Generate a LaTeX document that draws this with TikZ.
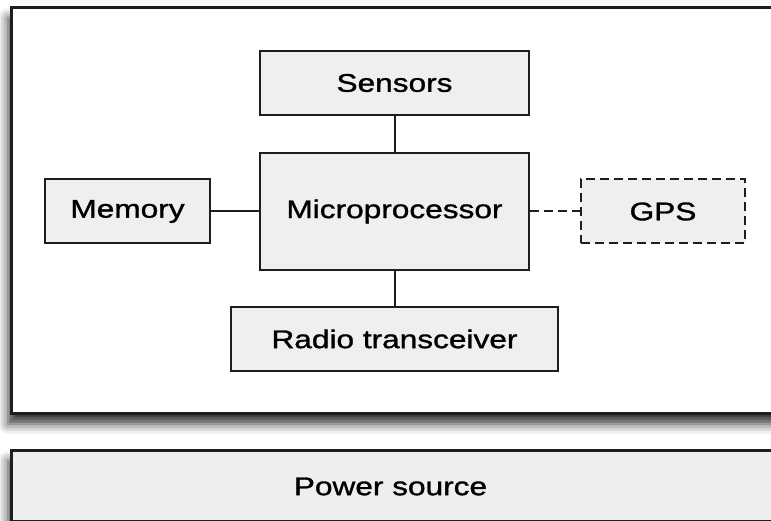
\documentclass[tikz,border=0pt]{standalone}
\usepackage{fontspec}
\setmainfont{Liberation Sans}[FakeStretch=1.24, FakeBold=1.2]
\usepackage{tikz}
\usetikzlibrary{positioning}
\usetikzlibrary{shadows.blur}
\definecolor{boxfill}{RGB}{239,239,239}
\definecolor{powerfill}{RGB}{238,238,238}
\definecolor{edge}{RGB}{30,30,30}
\tikzstyle{blk} = [draw=edge, fill=boxfill, line width=2pt, minimum height=64pt, inner sep=0pt, font=\fontsize{25.5}{30}\selectfont]
\tikzstyle{opt} = [blk, dash pattern=on 9pt off 5pt]
\tikzstyle{wire} = [draw=edge, line width=2pt]
\tikzstyle{frame} = [draw=edge, fill=white, line width=3pt, inner sep=0pt, blur shadow={shadow xshift=-3pt, shadow yshift=-10pt, shadow blur radius=10pt, shadow opacity=80}]

\begin{document}
\begin{tikzpicture}[x=1pt, y=1pt, node distance=36pt]
	\useasboundingbox (0,0) rectangle (771,521);

	\node[frame, minimum width=775pt, minimum height=406pt] (board) at (398.5,310) {};
	\node[frame, fill=powerfill, minimum width=775pt, minimum height=71pt, below=34pt of board] (power) {};
	\node[font=\fontsize{25.5}{30}\selectfont] (powerlabel) at ([xshift=-8pt]power.center) {Power source};

	\node[blk, minimum width=269pt, minimum height=117pt] (cpu) at (394.5,309.5) {Microprocessor};
	\node[blk, minimum width=269pt, above=of cpu] (sensors) {Sensors};
	\node[blk, minimum width=165pt, left=48pt of cpu] (memory) {Memory};
	\node[opt, minimum width=164pt, right=50pt of cpu] (gps) {GPS};
	\node[blk, minimum width=327pt, below=35pt of cpu] (radio) {Radio transceiver};

	\draw[wire] (sensors) -- (cpu);
	\draw[wire] (memory) -- (cpu);
	\draw[wire] (cpu) -- (radio);
	\draw[wire, dash pattern=on 9pt off 5pt] (cpu) -- (gps);
\end{tikzpicture}
\end{document}
